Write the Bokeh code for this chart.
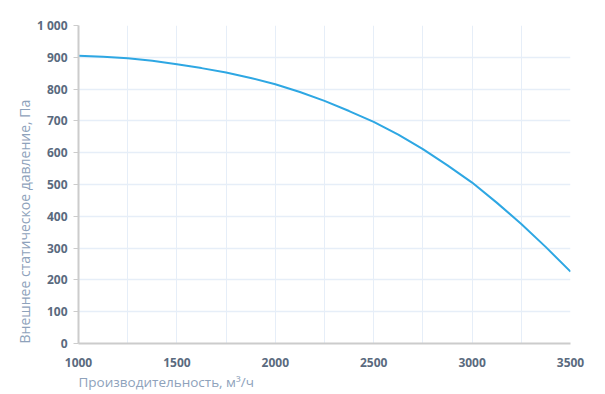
from bokeh.plotting import figure
from bokeh.embed import file_html
from bokeh.resources import INLINE
from bokeh.models import Range1d, Title, FixedTicker

airflow = [1000, 1125, 1250, 1375, 1500, 1625, 1750, 1875, 2000, 2125, 2250,
           2375, 2500, 2625, 2750, 2875, 3000, 3125, 3250, 3375, 3500]
pressure = [905, 902, 897, 889, 878, 866, 852, 835, 815, 791, 763,
            731, 697, 657, 611, 560, 506, 443, 376, 303, 226]
x_ticks = [1000, 1500, 2000, 2500, 3000, 3500]
x_grid = [1000, 1250, 1500, 1750, 2000, 2250, 2500, 2750, 3000, 3250, 3500]
y_ticks = [0, 100, 200, 300, 400, 500, 600, 700, 800, 900, 1000]
x_title = "Производительность, м³/ч"
y_title = "Внешнее  статическое  давление, Па"

FONT = "Open Sans"
TITLE_FONT = "Open Sans"
TICK_COLOR = "#5a6a7e"
TITLE_COLOR = "#8ea2bb"

p = figure(width=600, height=392, output_backend="svg", toolbar_location=None,
           x_range=Range1d(1000, 3500), y_range=Range1d(0, 1000),
           min_border_left=78, min_border_right=30, min_border_top=25, min_border_bottom=49)
p.outline_line_color = None
p.background_fill_color = "white"

p.line(airflow, pressure, line_color="#2ea7e3", line_width=2)

p.xaxis.ticker = FixedTicker(ticks=x_ticks)
p.yaxis.ticker = FixedTicker(ticks=y_ticks)
p.xgrid.ticker = FixedTicker(ticks=x_grid)
p.ygrid.ticker = FixedTicker(ticks=y_ticks)
p.xgrid.grid_line_color = "#e6eef8"
p.ygrid.grid_line_color = "#e6eef8"
p.xgrid.grid_line_width = 1
p.ygrid.grid_line_width = 1.5

for ax in (p.xaxis, p.yaxis):
    ax.axis_line_color = "#cccccc"
    ax.axis_line_width = 2
    ax.major_label_text_font = FONT
    ax.major_label_text_font_size = "12px"
    ax.major_label_text_font_style = "bold"
    ax.major_label_text_color = TICK_COLOR
    ax.minor_tick_line_color = None

p.xaxis.major_tick_line_color = None
p.xaxis.major_label_standoff = 8
p.yaxis.major_tick_line_color = "#cccccc"
p.yaxis.major_tick_out = 5
p.yaxis.major_tick_in = 0
p.yaxis.major_label_standoff = 6
p.yaxis.major_label_overrides = {1000: "1 000"}

p.add_layout(Title(text=x_title, align="left", text_font=TITLE_FONT, text_font_size="13.5px",
                   text_font_style="normal", text_color=TITLE_COLOR, standoff=3), "below")
p.add_layout(Title(text=y_title, align="left", text_font=TITLE_FONT, text_font_size="14px",
                   text_font_style="normal", text_color=TITLE_COLOR, standoff=0), "left")

open("out.html", "w").write(file_html(p, INLINE))
